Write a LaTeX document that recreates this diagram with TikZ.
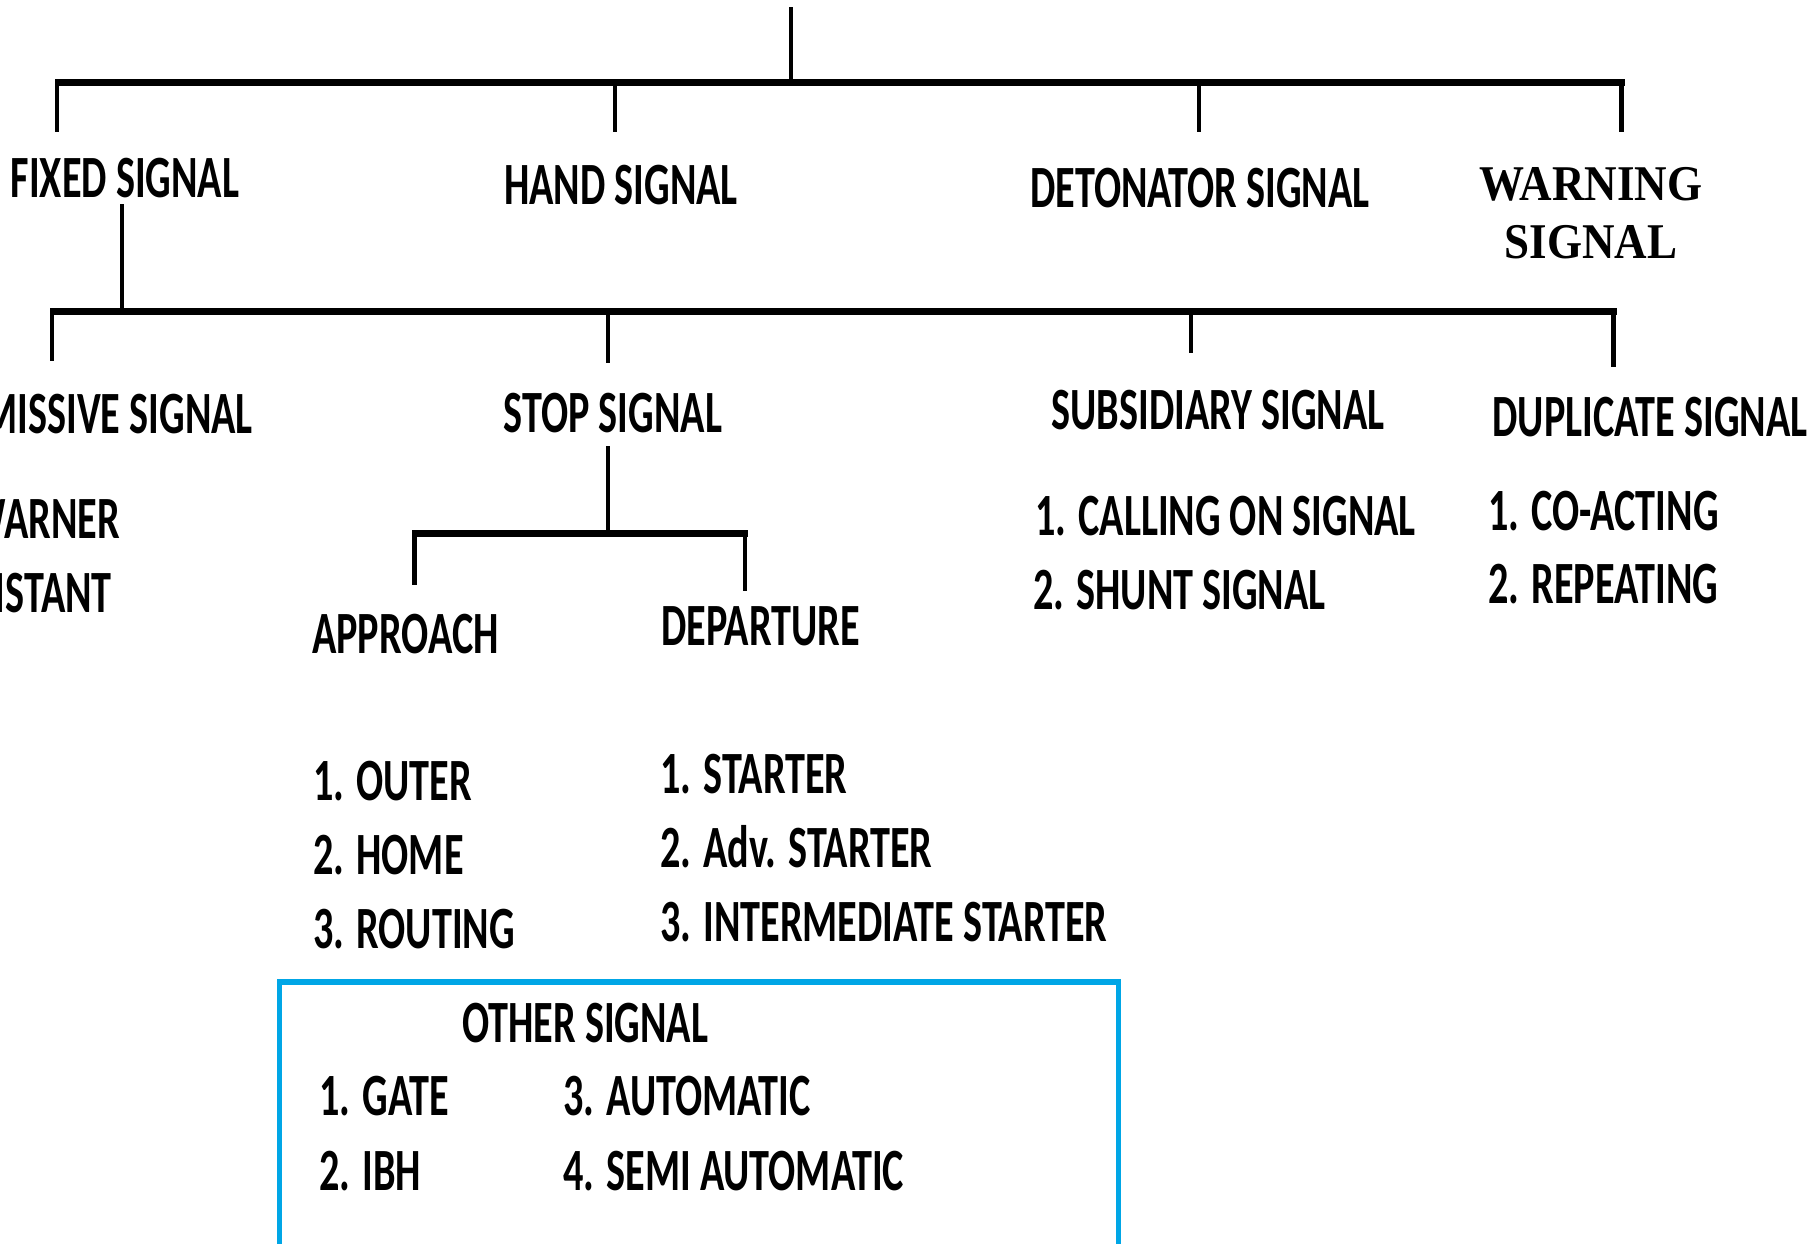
\documentclass[tikz,border=0pt]{standalone}
\usepackage{fontspec}
\setmainfont{Carlito}[FakeStretch=0.67]
\newfontfamily\warnfont{Liberation Serif}[FakeStretch=0.9]
\definecolor{boxblue}{RGB}{0,166,230}
\begin{document}
\begin{tikzpicture}[x=1pt,y=-1pt,
  lbl/.style={inner sep=0pt, font=\bfseries\fontsize{60}{72}\selectfont},
  lblc/.style={lbl, anchor=base},
  lbll/.style={lbl, anchor=base west},
  lblr/.style={lbl, anchor=base east},
  barline/.style={line width=7pt},
  stemline/.style={line width=4.5pt},
  otherbox/.style={draw=boxblue, line width=5.5pt}]
\useasboundingbox (0,0) rectangle (1818,1243);
\clip (0,0) rectangle (1818,1243);

% ---- level 1 labels
\node[lblc] (fixed) at (125,197) {FIXED SIGNAL};
\node[lblc] (hand) at (621,204) {HAND SIGNAL};
\node[lblc] (deton) at (1200,207) {DETONATOR SIGNAL};
\node[lbl, anchor=base, font=\warnfont\bfseries\fontsize{50}{58}\selectfont, align=center] (warn) at (1591,258) {WARNING\\SIGNAL};

% ---- level 1 connectors
\coordinate (root) at (791,7);
\coordinate (b1L) at (55,82.5);
\coordinate (b1R) at (1625,82.5);
\coordinate (fixedTop) at (57,132);
\coordinate (handTop) at (615,132);
\coordinate (detonTop) at (1199,132);
\coordinate (warnTop) at (1621.5,132);
\draw[barline] (b1L) -- (b1R);
\draw[stemline] (root) -- (root |- b1L);
\draw[stemline] (fixedTop |- b1L) -- (fixedTop);
\draw[stemline] (handTop |- b1L) -- (handTop);
\draw[stemline] (detonTop |- b1L) -- (detonTop);
\draw[stemline] (warnTop |- b1L) -- (warnTop);

% ---- level 2 labels
\node[lblr] (perm) at (253,433) {PERMISSIVE SIGNAL};
\node[lblc] (stop) at (613,432) {STOP SIGNAL};
\node[lblc] (subs) at (1218,429) {SUBSIDIARY SIGNAL};
\node[lblc] (dupl) at (1650,436) {DUPLICATE SIGNAL};

% ---- level 2 connectors
\coordinate (fixedBot) at (122,204);
\coordinate (b2L) at (50,311.5);
\coordinate (b2R) at (1617,311.5);
\coordinate (permTop) at (52,361);
\coordinate (stopTop) at (608,363);
\coordinate (subsTop) at (1191,353);
\coordinate (duplTop) at (1613.5,367);
\draw[barline] (b2L) -- (b2R);
\draw[stemline] (fixedBot) -- (fixedBot |- b2L);
\draw[stemline] (permTop |- b2L) -- (permTop);
\draw[stemline] (stopTop |- b2L) -- (stopTop);
\draw[stemline] (subsTop |- b2L) -- (subsTop);
\draw[stemline] (duplTop |- b2L) -- (duplTop);

% ---- permissive list
\node[lblr] (warner) at (120,538) {WARNER};
\node[lblr] (distant) at (112,612) {DISTANT};

% ---- stop signal subtree
\coordinate (stopBot) at (608,446);
\coordinate (b3L) at (412,533.5);
\coordinate (b3R) at (747.5,533.5);
\coordinate (apprTop) at (414.5,585);
\coordinate (deptTop) at (745,591);
\draw[barline] (b3L) -- (b3R);
\draw[stemline] (stopBot) -- (stopBot |- b3L);
\draw[stemline] (apprTop |- b3L) -- (apprTop);
\draw[stemline] (deptTop |- b3L) -- (deptTop);
\node[lbll] (appr) at (312,653) {APPROACH};
\node[lbll] (dept) at (661,645) {DEPARTURE};

\node[lbll] (outer) at (313,800) {1. OUTER};
\node[lbll] (home) at (313,874) {2. HOME};
\node[lbll] (routing) at (313,948) {3. ROUTING};
\node[lbll] (starter) at (660,793) {1. STARTER};
\node[lbll] (advst) at (660,867) {2. Adv. STARTER};
\node[lbll] (intst) at (660,941) {3. INTERMEDIATE STARTER};

% ---- subsidiary / duplicate lists
\node[lbll] (calling) at (1035,535) {1. CALLING ON SIGNAL};
\node[lbll] (shunt) at (1033,609) {2. SHUNT SIGNAL};
\node[lbll] (coact) at (1488,530) {1. CO-ACTING};
\node[lbll] (repeat) at (1488,603) {2. REPEATING};

% ---- other signal box
\draw[otherbox] (279.5,982) rectangle (1118.5,1250);
\node[lbll] (other) at (462,1042) {OTHER SIGNAL};
\node[lbll] (gate) at (319,1115) {1. GATE};
\node[lbll] (ibh) at (319,1190) {2. IBH};
\node[lbll] (auto) at (563,1115) {3. AUTOMATIC};
\node[lbll] (semi) at (563,1190) {4. SEMI AUTOMATIC};
\end{tikzpicture}
\end{document}
